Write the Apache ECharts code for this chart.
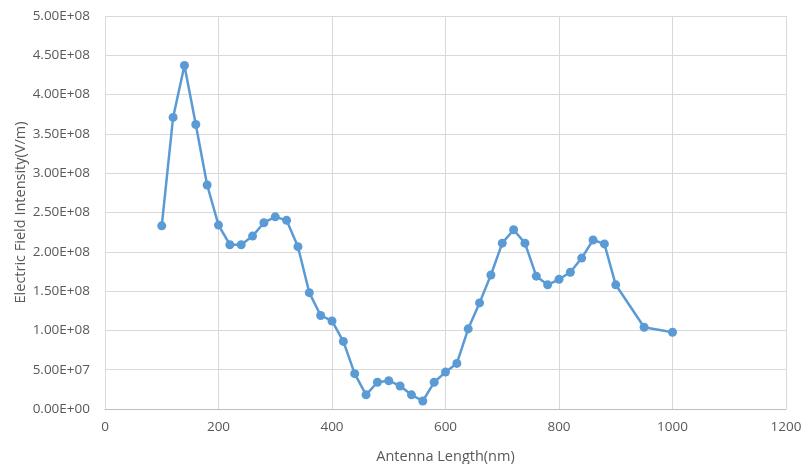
<!DOCTYPE html>
<html>
<head>
<meta charset="utf-8">
<script src="https://cdn.jsdelivr.net/npm/echarts@6/dist/echarts.min.js"></script>
<style>html,body{margin:0;padding:0;background:#fff}#c{width:804px;height:464px}</style>
</head>
<body>
<div id="c"></div>
<script>
const lengths = [100,120,140,160,180,200,220,240,260,280,300,320,340,360,380,400,420,440,460,480,500,520,540,560,580,600,620,640,660,680,700,720,740,760,780,800,820,840,860,880,900,950,1000];
const intensity = [2.33e8,3.71e8,4.37e8,3.62e8,2.85e8,2.34e8,2.09e8,2.09e8,2.20e8,2.37e8,2.445e8,2.40e8,2.065e8,1.48e8,1.19e8,1.12e8,0.86e8,4.5e7,1.8e7,3.4e7,3.6e7,2.93e7,1.8e7,1.02e7,3.4e7,4.7e7,5.8e7,1.02e8,1.35e8,1.705e8,2.11e8,2.28e8,2.11e8,1.69e8,1.58e8,1.65e8,1.74e8,1.92e8,2.15e8,2.10e8,1.58e8,1.04e8,0.976e8];
const xTitle = 'Antenna Length(nm)';
const yTitle = 'Electric Field Intensity(V/m)';

function sci(v){
  if (v === 0) return '0.00E+00';
  const e = Math.floor(Math.log10(Math.abs(v)));
  const m = v / Math.pow(10, e);
  return m.toFixed(2) + 'E' + (e < 0 ? '-' : '+') + String(Math.abs(e)).padStart(2,'0');
}

const font = '"Open Sans", "Liberation Sans", sans-serif';
const chart = echarts.init(document.getElementById('c'));
chart.setOption({
  animation: false,
  grid: {left: 105, right: 18, top: 16, bottom: 55, outerBoundsMode: 'none', containLabel: false},
  xAxis: {
    type: 'value', min: 0, max: 1200, interval: 200,
    name: xTitle, nameLocation: 'middle', nameGap: 40, nameMoveOverlap: false,
    nameTextStyle: {color: '#595959', fontSize: 14.5, fontFamily: font},
    axisLine: {show: true, lineStyle: {color: '#bfbfbf', width: 1}},
    axisTick: {show: false},
    axisLabel: {color: '#595959', fontSize: 13.5, fontFamily: font, margin: 11, formatter: v => String(v)},
    splitLine: {show: true, lineStyle: {color: '#d9d9d9', width: 1}}
  },
  yAxis: {
    type: 'value', min: 0, max: 5e8, interval: 5e7,
    name: yTitle, nameLocation: 'middle', nameGap: 77, nameRotate: 90, nameMoveOverlap: false,
    nameTextStyle: {color: '#595959', fontSize: 14.5, fontFamily: font},
    axisLine: {show: false},
    axisTick: {show: false},
    axisLabel: {color: '#595959', fontSize: 13.5, fontFamily: font, margin: 15, formatter: sci},
    splitLine: {show: true, lineStyle: {color: '#d9d9d9', width: 1}}
  },
  series: [{
    type: 'line',
    data: lengths.map((x,i)=>[x, intensity[i]]),
    symbol: 'circle', symbolSize: 9,
    lineStyle: {color: '#5b9bd5', width: 2.5},
    itemStyle: {color: '#5b9bd5'}
  }]
});
</script>
</body>
</html>
